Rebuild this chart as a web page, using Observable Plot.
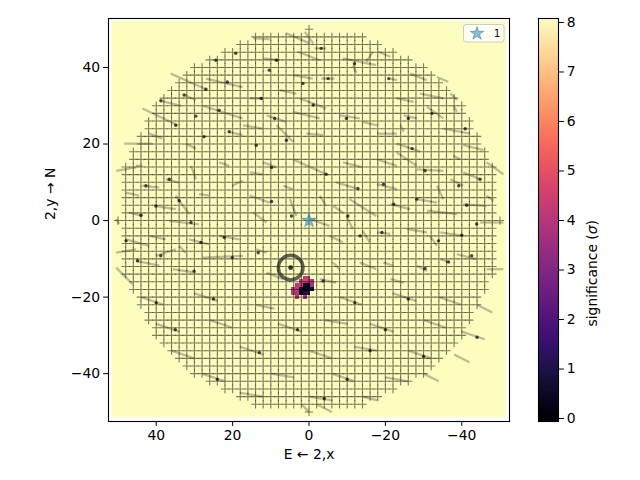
<!DOCTYPE html>
<html><head><meta charset="utf-8">
<script src="https://cdn.jsdelivr.net/npm/d3@7"></script>
<script src="https://cdn.jsdelivr.net/npm/@observablehq/plot@0.6"></script>
<style>
body{margin:0;background:white;}
#wrap{position:relative;width:640px;height:480px;font-family:"DejaVu Sans";}
#main{position:absolute;left:0;top:0;}
#cb{position:absolute;left:538px;top:0;}
</style></head><body><div id="wrap"><div id="main"></div><div id="cb"></div></div>
<script>
// ---------- data ----------
const gridCoords = [-50,-48,-46,-44,-42,-40,-38,-36,-34,-32,-30,-28,-26,-24,-22,-20,-18,-16,-14,-12,-10,-8,-6,-4,-2,0,2,4,6,8,10,12,14,16,18,20,22,24,26,28,30,32,34,36,38,40,42,44,46,48,50];
const gridRadius = 50;
const imageExtent = {x1: 51.6, x2: -51.7, y1: -51.5, y2: 52};
const sigMin = -0.06, sigMax = 8.08;
const xTicks = [40, 20, 0, -20, -40];
const yTicks = [-40, -20, 0, 20, 40];
const cbTicks = [0, 1, 2, 3, 4, 5, 6, 7, 8];
const source = {x: 0, y: 0, label: "1"};
const ring = {x: 4.8, y: -12.3};
// low-significance pixels [x, y, sigma]
const lowSigCells = [
  [1,-15,4.2],[0,-15,4.5],
  [2,-16,4.3],[1,-16,4.6],[0,-16,4.0],[-1,-16,3.9],
  [3,-17,4.1],[2,-17,4.4],[1,-17,0.6],[0,-17,0.4],[-1,-17,3.7],
  [4,-18,4.0],[3,-18,4.3],[2,-18,0.8],[1,-18,0.3],[0,-18,0.2],[-1,-18,0.7],
  [4,-19,4.4],[3,-19,3.9],[2,-19,0.5],[1,-19,0.9],[0,-19,1.3],
  [3,-20,4.2],[1,-20,4.0]
];
// trail segments [x1, y1, x2, y2]
const segments = [
  [36.2,38.4,27.0,34.3],[38.8,31.3,33.5,30.0],[43.6,29.3,34.4,24.9],[27.0,37.1,17.4,34.9],[27.9,30.0,17.4,26.7],
  [48.4,20.1,41.0,20.1],[32.7,32.8,29.6,31.5],[20.9,23.2,17.4,22.3],[32.3,20.1,29.6,18.8],[41.8,22.7,38.4,21.4],
  [5.9,48.9,-0.2,46.3],[1.1,49.3,-1.1,46.3],[14.6,47.6,10.3,47.4],[-1.5,45.0,-4.5,45.0],[12.0,42.4,7.7,41.9],
  [2.9,44.1,-2.8,41.9],[-8.9,42.4,-17.6,40.6],[4.2,38.0,-1.0,37.1],[-3.2,37.1,-6.7,37.1],[15.5,31.9,12.0,31.9],
  [7.7,34.1,3.3,33.2],[2.4,31.9,-4.5,29.3],[11.1,27.5,5.9,25.8],[4.2,28.4,-2.8,26.7],[-8.0,27.5,-13.3,26.7],
  [17.3,24.9,12.0,24.0],[8.5,24.9,4.2,20.6],[0.7,22.7,-3.7,22.3],[-14.1,25.8,-17.8,24.9],[-11.5,40.6,-12.4,38.6],
  [-15.0,41.5,-16.7,44.1],
  [-18.2,44.1,-21.3,42.8],[-26.5,38.4,-30.8,36.7],[-33.5,37.5,-36.5,36.2],[-29.1,33.2,-35.2,31.9],[-21.3,37.1,-23.0,36.7],
  [-23.0,31.9,-27.4,31.0],[-30.9,29.7,-35.2,26.7],[-37.8,30.1,-38.7,28.4],[-24.8,27.5,-28.2,26.7],[-35.2,24.0,-42.2,22.7],
  [-17.8,22.7,-23.0,22.7],[-23.0,20.1,-29.1,18.0],[-40.4,19.7,-45.7,18.4],[-23.9,24.9,-24.8,23.2],[-37.0,33.2,-38.7,31.5],
  [50.5,13.0,45.3,13.9],[45.3,14.3,43.6,14.3],[37.5,10.8,34.0,9.9],[43.6,9.1,39.2,8.6],[30.9,14.3,29.6,10.8],
  [47.9,7.3,44.5,6.5],[40.1,3.8,34.9,3.0],[34.9,6.5,31.4,1.7],[28.8,6.9,26.1,6.5],[47.1,2.1,43.6,1.2],
  [50.5,0.4,49.7,-0.9],[36.6,-0.1,28.8,-1.0],[47.9,-4.9,41.8,-6.6],[41.8,-4.0,37.5,-4.9],[31.4,-4.9,26.1,-6.2],
  [23.5,-4.0,18.3,-4.9],[50.5,-8.4,45.3,-7.5],[40.1,-9.2,34.9,-7.5],[45.3,-10.5,39.2,-11.8],[34.0,-6.6,32.3,-8.4],
  [27.9,-9.7,17.3,-9.2],[50.5,-12.3,46.2,-16.6],[35.7,-12.7,29.6,-13.6],[20.1,9.1,17.4,10.4],[23.5,15.2,20.9,14.3],
  [4.2,16.0,-4.5,12.1],[12.0,15.2,8.5,13.9],[-8.9,15.2,-14.1,13.9],[15.5,12.6,12.0,12.1],[6.8,9.1,4.2,8.2],
  [-7.1,10.0,-12.4,8.4],[15.5,6.5,10.3,4.7],[5.0,5.6,3.3,1.2],[-2.8,6.5,-4.5,3.8],[-6.3,3.8,-8.9,2.1],
  [-10.6,5.6,-17.6,1.2],[14.6,2.1,11.1,-0.5],[-0.2,0.4,-5.4,-1.4],[-9.8,1.2,-11.5,-2.2],[-14.1,-2.7,-15.9,-5.7],
  [13.8,-7.5,11.1,-8.4],[-5.4,-4.0,-8.9,-5.7],[11.1,-13.6,6.8,-15.3],[-2.8,-15.3,-7.1,-16.2],[-13.3,-11.0,-17.6,-12.7],
  [-6.3,-11.0,-8.0,-12.7],
  [-17.8,16.0,-23.0,14.3],[-23.0,17.8,-28.2,14.3],[-28.2,13.4,-35.2,13.0],[-37.8,16.9,-39.6,16.0],[-40.4,12.6,-44.8,10.8],
  [-46.5,15.2,-50.9,12.1],[-17.8,9.5,-23.0,8.2],[-28.2,5.6,-33.5,4.7],[-33.5,9.1,-35.2,5.6],[-37.0,10.8,-40.4,9.1],
  [-40.4,4.3,-46.5,3.8],[-46.5,6.5,-48.3,5.2],[-21.3,4.3,-26.5,3.0],[-30.9,2.6,-38.7,1.7],[-44.8,-0.5,-50.9,-0.5],
  [-17.8,-3.1,-21.3,-3.5],[-25.6,-2.2,-30.9,-3.1],[-34.4,-3.1,-40.4,-4.0],[-31.7,-4.0,-33.5,-6.6],[-38.7,-8.8,-43.9,-10.1],
  [-19.5,-11.0,-22.2,-11.8],[-28.2,-11.8,-30.9,-13.2],[-34.4,-10.1,-37.0,-11.0],[-46.5,-12.7,-50.9,-12.7],[-21.3,-15.3,-24.8,-16.2],
  [44,-20,38,-22],[30,-19,24,-21],[14,-22,9,-23],[-8,-20,-14,-22],[-22,-19,-28,-21],[-34,-20,-40,-22],[-44,-22,-48,-24],
  [40,-27,34,-29],[26,-26,20,-28],[8,-27,2,-29],[-4,-26,-10,-27],[-16,-27,-22,-29],[-30,-26,-36,-28],[-40,-29,-46,-31],
  [36,-34,30,-36],[18,-33,12,-35],[0,-34,-6,-36],[-12,-33,-18,-34],[-26,-34,-32,-36],[-38,-35,-42,-37],
  [28,-40,22,-42],[10,-40,4,-41],[-6,-40,-12,-42],[-20,-41,-26,-42],[-30,-40,-34,-42],
  [18,-45,12,-46],[0,-46,-6,-47],[-14,-46,-18,-47],[2,-48,0,-50],[-2,-48,-6,-50]
];
// dark dots along trails [x, y]
const segDots = [
  [27.0,34.3],[38.8,31.3],[34.9,24.9],[21.4,36.2],[23.5,28.8],[20.9,23.2],[29.6,27.3],[27.5,21.9],[32.7,32.8],[19.2,43.7],[24.4,41.9],
  [-3.2,45.0],[8.5,41.9],[-11.9,41.0],[1.6,35.8],[-5.0,37.1],[12.5,31.9],[-1.1,30.2],[9.0,26.7],[-9.8,26.7],[5.9,21.0],[13.8,19.7],[10.4,39.3],
  [-20.9,37.1],[-32.2,28.0],[-26.0,26.7],[-40.9,24.0],[-27.0,18.8],
  [36.6,10.8],[42.7,9.1],[40.1,3.8],[34.0,5.2],[44.0,1.4],[30.9,-0.5],[47.9,-5.3],[28.3,-5.7],[22.2,-4.4],[38.8,-9.2],[44.9,-10.5],[20.1,-9.7],[30.1,-13.2],
  [-4.5,12.1],[9.8,13.9],[-12.8,8.4],[4.6,1.2],[-10.2,1.2],[13.3,-8.4],[-3.7,-15.8],[9.8,5.0],[-13.4,-4.0],
  [-30.4,13.0],[-44.8,10.8],[-19.5,9.5],[-28.2,5.6],[-39.2,9.1],[-41.3,4.0],[-22.2,4.3],[-43.9,-0.9],[-19.1,-3.1],[-40.0,-3.8],[-33.9,-5.3],[-42.6,-9.2],[-30.4,-12.5],[-36.5,-10.8],
  [40,-21.5],[25,-20.5],[-12,-21.5],[-26,-20.5],[35,-28.5],[3,-28.5],[-20,-28.5],[-44,-30.5],[13,-34.5],[-16,-34],[-30,-35.5],[24,-41.5],[-10,-41.5],[-4,-46.5]
];

// ---------- derived ----------
const grid = gridCoords.flatMap(x => gridCoords.map(y => ({x, y})))
  .filter(d => d.x * d.x + d.y * d.y <= gridRadius * gridRadius);
const colorOpts = {type: "linear", scheme: "magma", domain: [sigMin, sigMax]};
const fmt = d3.format("d");
const blue = "#1f77b4";

const main = Plot.plot({
  width: 640, height: 480,
  marginLeft: 108, marginRight: 131, marginTop: 18, marginBottom: 59,
  x: {domain: [52.5, -52.5]},
  y: {domain: [-52.5, 52.8]},
  color: colorOpts,
  style: {fontFamily: "DejaVu Sans", fontSize: "13.9px", overflow: "visible", background: "white", color: "black"},
  marks: [
    Plot.rect([imageExtent], {x1: "x1", x2: "x2", y1: "y1", y2: "y2", fill: () => sigMax}),
    Plot.rect(lowSigCells, {x1: d => d[0] + 0.5, x2: d => d[0] - 0.5, y1: d => d[1] - 0.5, y2: d => d[1] + 0.5, fill: d => d[2], shapeRendering: "crispEdges"}),
    Plot.link(segments, {x1: d => d[0], y1: d => d[1], x2: d => d[2], y2: d => d[3], stroke: "black", strokeOpacity: 0.25, strokeWidth: 2.3}),
    Plot.dot(grid, {x: "x", y: "y", symbol: "plus", r: 2.8, stroke: "black", strokeOpacity: 0.5, strokeWidth: 1.1}),
    Plot.dot(segDots, {x: d => d[0], y: d => d[1], r: 1.7, fill: "black", fillOpacity: 0.7}),
    Plot.dot([ring], {x: "x", y: "y", r: 12.3, stroke: "#222", strokeOpacity: 0.72, strokeWidth: 3.5, fill: "none"}),
    Plot.dot([ring], {x: "x", y: "y", r: 2.4, fill: "black", fillOpacity: 0.8}),
    Plot.dot([source], {x: "x", y: "y", symbol: "star", r: 4.4, fill: blue, fillOpacity: 0.5, stroke: blue, strokeOpacity: 0.5, strokeWidth: 1}),
    Plot.frame({stroke: "black", strokeWidth: 1.1}),
    Plot.axisX({ticks: xTicks, tickSize: 4.86, tickPadding: 3.5, tickFormat: fmt, label: null, fontSize: 13.9}),
    Plot.axisY({ticks: yTicks, tickSize: 4.86, tickPadding: 3.5, tickFormat: fmt, label: null, fontSize: 13.9}),
    Plot.text(["E ← 2,x"], {text: d => d, frameAnchor: "bottom", dy: 37, fontSize: 13.9}),
    Plot.text(["2,y → N"], {text: d => d, frameAnchor: "left", dx: -58, rotate: -90, fontSize: 13.9})
  ]
});
document.getElementById("main").appendChild(main);

// legend (top-right, inside axes)
{
  const svg = d3.select(main);
  const g = svg.append("g");
  g.append("rect").attr("x", 463.5).attr("y", 24.5).attr("width", 40.5).attr("height", 17.5)
    .attr("rx", 2.5).attr("fill", "white").attr("fill-opacity", 0.8).attr("stroke", "#cccccc").attr("stroke-width", 1);
  g.append("path").attr("d", d3.symbol(d3.symbolStar, Math.PI * 4.2 * 4.2)())
    .attr("transform", "translate(477,33.5)").attr("fill", blue).attr("fill-opacity", 0.5)
    .attr("stroke", blue).attr("stroke-opacity", 0.5);
  g.append("text").attr("x", 497).attr("y", 33.5).attr("dy", "0.35em").attr("text-anchor", "middle")
    .attr("font-size", 9.7).attr("font-family", "DejaVu Sans").text(source.label);
}

// colorbar
const steps = d3.range(256).map(i => {
  const a = sigMin + (sigMax - sigMin) * i / 256;
  const b = sigMin + (sigMax - sigMin) * (i + 1) / 256;
  return {a, b: b + 0.01, m: (a + b) / 2};
});
const cb = Plot.plot({
  width: 102, height: 480,
  marginLeft: 0, marginRight: 82, marginTop: 18, marginBottom: 59,
  x: {domain: [0, 1], axis: null},
  y: {domain: [sigMin, sigMax]},
  color: colorOpts,
  style: {fontFamily: "DejaVu Sans", fontSize: "13.9px", overflow: "visible", background: "transparent", color: "black"},
  marks: [
    Plot.rect(steps, {x1: 0, x2: 1, y1: "a", y2: "b", fill: "m", shapeRendering: "crispEdges"}),
    Plot.frame({stroke: "black", strokeWidth: 1.1}),
    Plot.axisY({anchor: "right", ticks: cbTicks, tickSize: 4.86, tickPadding: 3.5, tickFormat: fmt, label: null, fontSize: 13.9}),
    Plot.text(["significance (σ)"], {text: d => d, frameAnchor: "right", dx: 34, rotate: -90, fontSize: 13.9})
  ]
});
document.getElementById("cb").appendChild(cb);
d3.select(cb).selectAll("text").each(function() {
  if (this.textContent === "significance (σ)") {
    const t = d3.select(this);
    t.text(null);
    t.append("tspan").text("significance (");
    t.append("tspan").attr("font-style", "italic").text("σ");
    t.append("tspan").text(")");
  }
});
</script></body></html>
